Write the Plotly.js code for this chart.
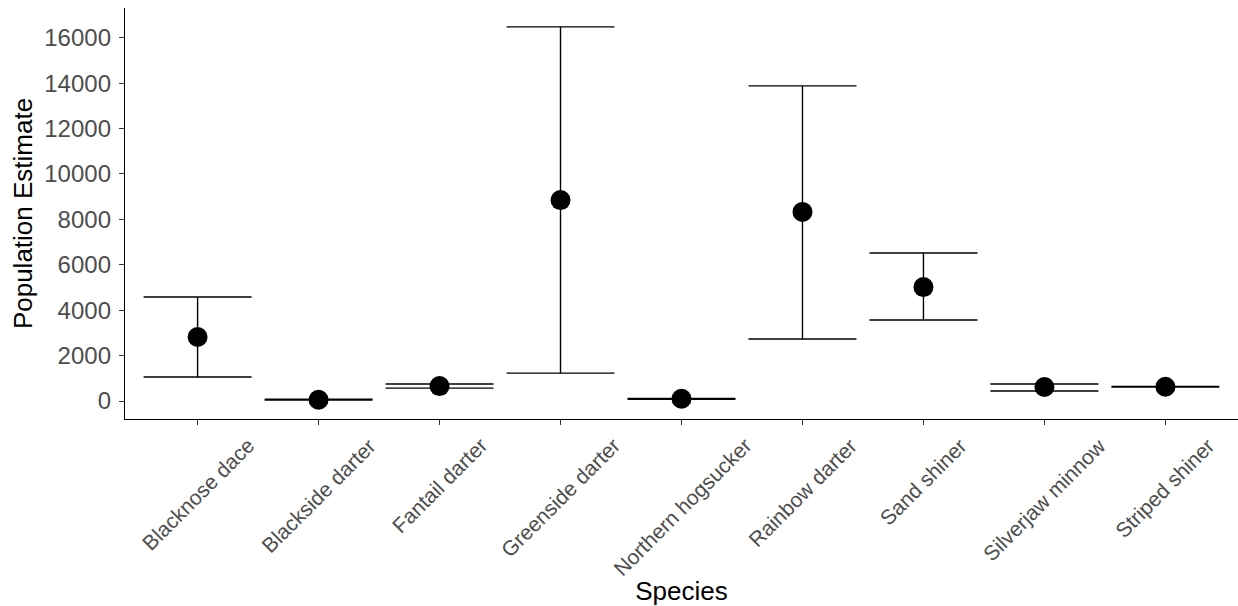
<!DOCTYPE html>
<html>
<head>
<meta charset="utf-8">
<script src="https://cdn.plot.ly/plotly-3.0.1.min.js"></script>
<style>html,body{margin:0;padding:0;background:#fff;}#chart{width:1238px;height:606px;}</style>
</head>
<body>
<div id="chart"></div>
<script>
const species = ["Blacknose dace","Blackside darter","Fantail darter","Greenside darter","Northern hogsucker","Rainbow darter","Sand shiner","Silverjaw minnow","Striped shiner"];
const estimate = [2820, 60, 660, 8850, 100, 8330, 5020, 620, 630];
const lower = [1060, 40, 570, 1230, 80, 2730, 3570, 440, 620];
const upper = [4580, 80, 750, 16480, 120, 13880, 6520, 750, 640];
const yTicks = [0, 2000, 4000, 6000, 8000, 10000, 12000, 14000, 16000];

const trace = {
  type: "scatter",
  mode: "markers",
  x: species,
  y: estimate,
  marker: {color: "#000", size: 20},
  error_y: {
    type: "data",
    symmetric: false,
    array: upper.map((u, i) => u - estimate[i]),
    arrayminus: estimate.map((e, i) => e - lower[i]),
    color: "#000",
    thickness: 1.4,
    width: 54
  },
  hoverinfo: "x+y"
};

// x tick labels, centred on each tick as in the reference (rotated 45°)
const tickLabels = species.map(s => ({
  x: s, xref: "x",
  y: 0, yref: "paper",
  yshift: -12,
  text: s,
  showarrow: false,
  textangle: -45,
  xanchor: "center", yanchor: "top",
  font: {family: "Liberation Sans, Arial, sans-serif", size: 21, color: "#4D4D4D"}
}));

const layout = {
  width: 1238, height: 606,
  margin: {l: 125, r: 0, t: 8, b: 187},
  paper_bgcolor: "#fff", plot_bgcolor: "#fff",
  showlegend: false,
  font: {family: "Liberation Sans, Arial, sans-serif", color: "#000"},
  xaxis: {
    type: "category",
    categoryorder: "array", categoryarray: species,
    range: [-0.6, 8.6],
    showline: true, linecolor: "#000", linewidth: 1.4,
    ticks: "outside", ticklen: 5, tickcolor: "#333", tickwidth: 1.2,
    showgrid: false, zeroline: false,
    showticklabels: false,
    title: {text: "Species", font: {size: 26, color: "#000"}, standoff: 158}
  },
  yaxis: {
    range: [-790, 17310],
    tickvals: yTicks,
    ticktext: yTicks.map(String),
    showline: true, linecolor: "#000", linewidth: 1.4,
    ticks: "outside", ticklen: 5, tickcolor: "#333", tickwidth: 1.2,
    ticklabelstandoff: 3,
    showgrid: false, zeroline: false,
    tickfont: {size: 24, color: "#4D4D4D"},
    title: {text: "Population Estimate", font: {size: 26, color: "#000"}, standoff: 4}
  },
  annotations: tickLabels
};

Plotly.newPlot("chart", [trace], layout, {displayModeBar: false});
</script>
</body>
</html>
